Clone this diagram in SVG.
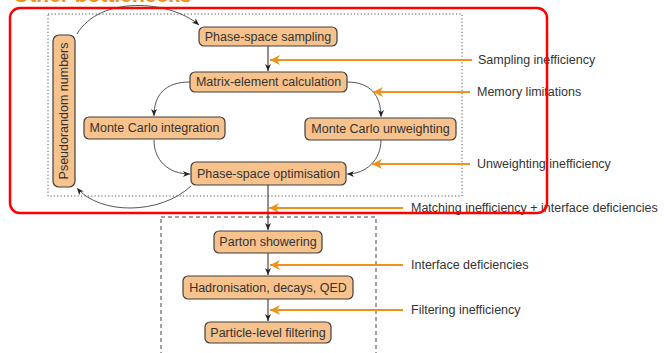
<svg xmlns="http://www.w3.org/2000/svg" width="664" height="353" viewBox="0 0 664 353">
<style>
.node rect{fill:#f7c28c;stroke:#3f3f3f;stroke-width:1.2}
.node text{font-family:"Liberation Sans",Arial,sans-serif;font-size:12.5px;fill:#333;text-anchor:middle;dominant-baseline:central}
.lbl{font-family:"Liberation Sans",Arial,sans-serif;font-size:12.5px;fill:#333;dominant-baseline:central}
.k{fill:none;stroke:#222;stroke-width:1;marker-end:url(#ak)}
.g{fill:none;stroke:#555;stroke-width:1;marker-end:url(#ak)}
.o{fill:none;stroke:#f39019;stroke-width:2;marker-end:url(#ao)}
</style>
<defs>
<marker id="ak" markerUnits="userSpaceOnUse" markerWidth="7" markerHeight="6" refX="7" refY="3" orient="auto">
<path d="M0,0 L7,3 L0,6 L2,3 z" fill="#222"/>
</marker>
<marker id="ao" markerUnits="userSpaceOnUse" markerWidth="11" markerHeight="10" refX="10" refY="5" orient="auto">
<path d="M0,0 L10,5 L0,10 L3,5 z" fill="#f39019"/>
</marker>
</defs>
<text x="13" y="2" font-family="Liberation Sans,Arial,sans-serif" font-weight="bold" font-size="21" fill="#f39019">Other bottlenecks</text>
<rect x="48" y="14" width="414" height="182" fill="none" stroke="#555" stroke-width="1" stroke-dasharray="1.2,2.2"/>
<rect x="161" y="217" width="215" height="145" fill="none" stroke="#444" stroke-width="1" stroke-dasharray="4,3"/>
<g id="connectors">
<path class="k" d="M268,46 L268,71"/>
<path class="g" d="M190,82 C165,82 154,95 154,116"/>
<path class="g" d="M347,82 C370,82 381,95 381,117"/>
<path class="g" d="M154,140 C154,160 168,174 190,174"/>
<path class="g" d="M381,140 C381,160 366,174 347,174"/>
<path class="g" d="M191,186 C160,215 100,215 77,188"/>
<path class="g" d="M77,34 C100,-5 170,0 199,25"/>
<path class="k" d="M268,185 L268,230"/>
<path class="k" d="M268,253 L268,275"/>
<path class="k" d="M268,299 L268,321"/>
<path class="o" d="M472,60 L270,60"/>
<path class="o" d="M470,92 L373,92"/>
<path class="o" d="M470,164 L372,164"/>
<path class="o" d="M403,208 L269,208"/>
<path class="o" d="M403,265 L270,265"/>
<path class="o" d="M403,310 L270,310"/>
</g>
<g id="n-sampling" class="node"><rect x="199" y="27" width="138" height="19" rx="5"/><text x="268" y="36.5">Phase-space sampling</text></g>
<g id="n-matrix" class="node"><rect x="190" y="72" width="157" height="20" rx="5"/><text x="268.5" y="82">Matrix-element calculation</text></g>
<g id="n-mcint" class="node"><rect x="84" y="117" width="141" height="22" rx="5"/><text x="154.5" y="128">Monte Carlo integration</text></g>
<g id="n-mcunw" class="node"><rect x="305" y="118" width="151" height="22" rx="5"/><text x="380.5" y="129">Monte Carlo unweighting</text></g>
<g id="n-psopt" class="node"><rect x="191" y="162" width="155" height="23" rx="5"/><text x="268.5" y="173.5">Phase-space optimisation</text></g>
<g id="n-prng" class="node"><rect x="53" y="35" width="22" height="152" rx="6"/><text x="64" y="111" transform="rotate(-90 64 111)">Pseudorandom numbers</text></g>
<g id="n-parton" class="node"><rect x="214" y="231" width="108" height="22" rx="5"/><text x="268" y="242">Parton showering</text></g>
<g id="n-hadron" class="node"><rect x="183" y="276" width="170" height="23" rx="5"/><text x="268" y="287.5">Hadronisation, decays, QED</text></g>
<g id="n-filter" class="node"><rect x="205" y="322" width="126" height="21" rx="5"/><text x="268" y="332.5">Particle-level filtering</text></g>
<g id="labels">
<text class="lbl" x="478" y="60">Sampling inefficiency</text>
<text class="lbl" x="477" y="92">Memory limitations</text>
<text class="lbl" x="477" y="164">Unweighting inefficiency</text>
<text class="lbl" x="411" y="208">Matching inefficiency + interface deficiencies</text>
<text class="lbl" x="411" y="265">Interface deficiencies</text>
<text class="lbl" x="411" y="310">Filtering inefficiency</text>
</g>
<rect x="10" y="8" width="537" height="205" rx="10" fill="none" stroke="#ff0000" stroke-width="2.5"/>
</svg>
